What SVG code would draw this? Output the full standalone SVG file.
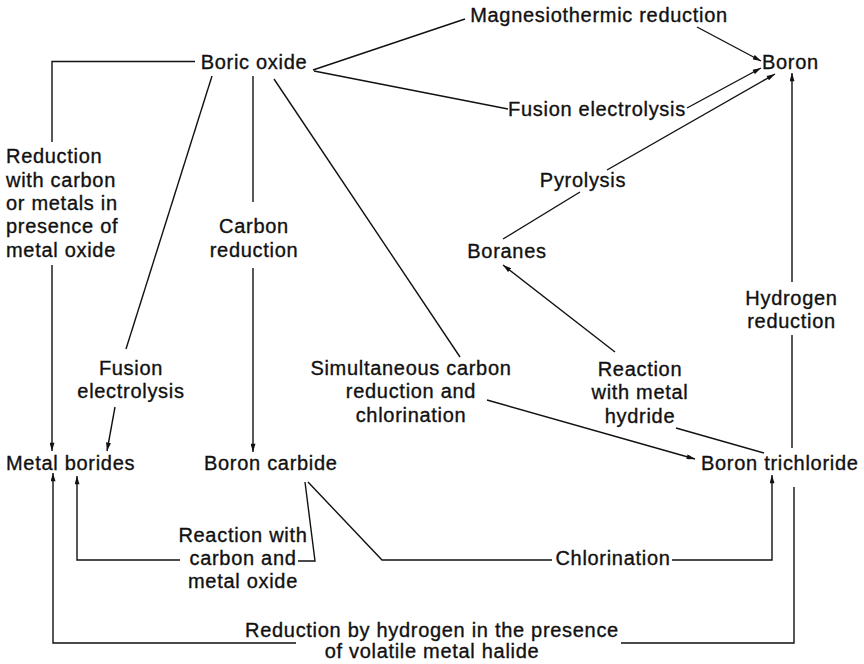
<svg xmlns="http://www.w3.org/2000/svg" width="864" height="664" viewBox="0 0 864 664">
<style>
text{font-family:"Liberation Sans",Arial,Helvetica,sans-serif;font-size:20px;letter-spacing:0.7px;fill:#111;stroke:#111;stroke-width:0.35}
.m{text-anchor:middle}
.c line,.c polyline{stroke:#111;stroke-width:1.4;fill:none}
.a{marker-end:url(#ah)}
</style>
<defs>
<marker id="ah" viewBox="0 0 10 6" refX="10" refY="3" markerWidth="9" markerHeight="5" orient="auto" markerUnits="userSpaceOnUse"><path d="M0,0 L10,3 L0,6 z" fill="#111"/></marker>
</defs>
<rect width="864" height="664" fill="#fff"/>
<g class="c" id="connectors">
<polyline points="195,61.5 52,61.5 52,142"/>
<line class="a" x1="52" y1="265" x2="52" y2="451"/>
<line x1="313" y1="70" x2="465" y2="19"/>
<line class="a" x1="697" y1="27" x2="761" y2="61"/>
<line x1="314" y1="71" x2="508" y2="109"/>
<line class="a" x1="687" y1="108" x2="761" y2="68"/>
<line class="a" x1="607" y1="170" x2="775" y2="74"/>
<line x1="503" y1="239" x2="580" y2="192"/>
<line class="a" x1="615" y1="352" x2="503" y2="265"/>
<line x1="792" y1="448" x2="792" y2="335"/>
<line class="a" x1="792" y1="282" x2="792" y2="73"/>
<line x1="212" y1="76" x2="126" y2="349"/>
<line class="a" x1="115" y1="407" x2="107" y2="451"/>
<line x1="253" y1="76" x2="253" y2="202"/>
<line class="a" x1="253" y1="268" x2="253" y2="452"/>
<line x1="274" y1="79" x2="460" y2="357"/>
<line class="a" x1="487" y1="400" x2="695" y2="459"/>
<line x1="764" y1="453" x2="676" y2="428"/>
<polyline points="305,482 315,561 298,561"/>
<polyline class="a" points="180,560 77,560 77,476"/>
<polyline points="308,482 382,560 552,560"/>
<polyline class="a" points="672,560 772,560 772,475"/>
<polyline points="794,487 794,643 621,643"/>
<polyline class="a" points="296,643 53,643 53,473"/>
</g>
<g id="boric-oxide"><text x="200.7" y="69.3">Boric oxide</text></g>
<g id="magnesiothermic"><text class="m" x="599" y="21.7">Magnesiothermic reduction</text></g>
<g id="boron"><text x="762" y="69.3">Boron</text></g>
<g id="fusion-electrolysis-top"><text class="m" x="597" y="115.7">Fusion electrolysis</text></g>
<g id="reduction-carbon-metals"><text x="6" y="163.3">Reduction</text><text x="6" y="186.7">with carbon</text><text x="6" y="210">or metals in</text><text x="6" y="233.3">presence of</text><text x="6" y="256.7">metal oxide</text></g>
<g id="carbon-reduction"><text class="m" x="254" y="233.3">Carbon</text><text class="m" x="254" y="256.7">reduction</text></g>
<g id="pyrolysis"><text class="m" x="583" y="186.7">Pyrolysis</text></g>
<g id="boranes"><text class="m" x="507" y="258.3">Boranes</text></g>
<g id="hydrogen-reduction"><text class="m" x="791.5" y="305">Hydrogen</text><text class="m" x="791.5" y="328.3">reduction</text></g>
<g id="fusion-electrolysis-low"><text class="m" x="131" y="375">Fusion</text><text class="m" x="131" y="398.3">electrolysis</text></g>
<g id="simultaneous"><text class="m" x="411" y="375">Simultaneous carbon</text><text class="m" x="411" y="398.3">reduction and</text><text class="m" x="411" y="421.7">chlorination</text></g>
<g id="metal-hydride"><text class="m" x="640" y="376">Reaction</text><text class="m" x="640" y="399.3">with metal</text><text class="m" x="640" y="422.7">hydride</text></g>
<g id="metal-borides"><text x="6" y="470">Metal borides</text></g>
<g id="boron-carbide"><text x="204" y="470">Boron carbide</text></g>
<g id="boron-trichloride"><text x="701" y="470">Boron trichloride</text></g>
<g id="reaction-carbon-oxide"><text class="m" x="243" y="541.7">Reaction with</text><text class="m" x="243" y="565">carbon and</text><text class="m" x="243" y="588.3">metal oxide</text></g>
<g id="chlorination"><text class="m" x="613" y="565">Chlorination</text></g>
<g id="reduction-hydrogen-halide"><text class="m" x="432" y="636.7">Reduction by hydrogen in the presence</text><text class="m" x="432" y="658.3">of volatile metal halide</text></g>
</svg>
